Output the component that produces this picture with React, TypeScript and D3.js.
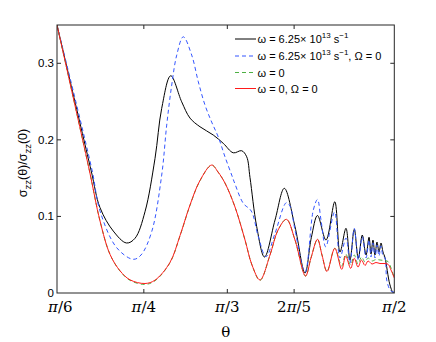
import React from 'react';
import * as d3 from 'd3';

type Pt = [number, number];

// theta in degrees, value = sigma_zz(theta) / sigma_zz(0)
const omegaFull: Pt[] = [
  [29.40, 0.350], [35.51, 0.1606], [37.13, 0.1114], [39.51, 0.0809], [41.89, 0.0653],
  [43.41, 0.0714], [45.21, 0.1061], [47.01, 0.1758], [48.21, 0.2411], [49.83, 0.2837],
  [51.80, 0.2497], [53.30, 0.2284], [55.09, 0.2171], [57.48, 0.2063], [59.28, 0.1954],
  [61.07, 0.1831], [62.58, 0.1858], [63.48, 0.1779], [64.07, 0.151], [65.28, 0.0866],
  [66.68, 0.0470], [68.57, 0.0953], [70.24, 0.1367], [72.16, 0.0866], [73.96, 0.0261],
  [75.09, 0.0722], [76.20, 0.1012], [77.73, 0.0692], [79.31, 0.1192], [80.24, 0.0535],
  [81.32, 0.0845], [82.04, 0.0431], [82.81, 0.0832], [83.53, 0.0453], [84.25, 0.0757],
  [84.92, 0.0496], [85.46, 0.0728], [85.81, 0.0509], [86.17, 0.0692], [86.53, 0.0496],
  [86.89, 0.0666], [87.25, 0.0535], [87.61, 0.0653], [87.97, 0.0535], [88.33, 0.0461],
  [89.18, 0.0117], [89.77, 0.0004], [90.00, 0.0],
];

const omegaNoBigOmega: Pt[] = [
  [29.40, 0.350], [35.69, 0.1606], [37.13, 0.1070], [40.13, 0.0591], [43.11, 0.0440],
  [44.49, 0.0496], [46.41, 0.0800], [48.21, 0.1540], [49.11, 0.2193], [50.01, 0.2715],
  [50.91, 0.3107], [52.09, 0.3346], [53.60, 0.3107], [54.79, 0.2758], [55.99, 0.2454],
  [57.19, 0.2232], [58.38, 0.2037], [59.58, 0.1779], [60.79, 0.1540], [61.38, 0.1423],
  [62.87, 0.1171], [64.31, 0.1070], [65.57, 0.0735], [66.95, 0.0474], [68.57, 0.0779],
  [70.60, 0.1179], [71.26, 0.1136], [72.16, 0.0822], [73.96, 0.0274], [75.45, 0.1084],
  [76.20, 0.1221], [76.83, 0.0953], [77.68, 0.0604], [79.27, 0.1057], [80.24, 0.0457],
  [81.32, 0.0718], [82.04, 0.0388], [82.81, 0.0845], [83.53, 0.0431], [84.25, 0.0735],
  [84.92, 0.0457], [85.46, 0.0692], [85.81, 0.0470], [86.17, 0.0653], [86.53, 0.0457],
  [86.89, 0.0627], [87.25, 0.0483], [87.61, 0.0614], [87.97, 0.0483], [88.33, 0.0457],
  [88.64, 0.0170], [89.14, 0.0052], [89.54, 0.0017], [90.00, 0.0013],
];

const staticFull: Pt[] = [
  [29.40, 0.350], [35.20, 0.1606], [37.13, 0.0940], [38.92, 0.0505], [40.72, 0.0287],
  [42.52, 0.0165], [45.21, 0.0112], [47.01, 0.0160], [49.70, 0.0395], [51.50, 0.0745],
  [53.30, 0.1145], [55.09, 0.1465], [57.19, 0.1671], [58.33, 0.1580], [59.58, 0.1436],
  [61.38, 0.1123], [63.18, 0.0692], [64.43, 0.0366], [65.87, 0.0165], [67.67, 0.0496],
  [69.11, 0.0822], [70.63, 0.0962], [72.16, 0.0692], [74.05, 0.0222], [75.03, 0.0457],
  [76.20, 0.0701], [77.01, 0.0496], [77.91, 0.0281], [79.31, 0.0584], [80.55, 0.0352],
  [81.27, 0.0509], [82.16, 0.0366], [82.81, 0.0496], [83.48, 0.0379], [84.11, 0.0470],
  [84.74, 0.0405], [85.28, 0.0457], [85.99, 0.0418], [86.71, 0.0437], [87.43, 0.0431],
  [88.15, 0.0424], [88.87, 0.0411], [89.41, 0.0326], [90.00, 0.0196],
];

const staticNoBigOmega: Pt[] = [
  [29.40, 0.350], [35.20, 0.1606], [37.13, 0.0940], [38.92, 0.0505], [40.72, 0.0290],
  [42.52, 0.0172], [45.21, 0.0124], [47.01, 0.0168], [49.70, 0.0400], [51.50, 0.0750],
  [53.30, 0.1150], [55.09, 0.1470], [57.19, 0.1671], [58.33, 0.1580], [59.58, 0.1436],
  [61.38, 0.1123], [63.18, 0.0692], [64.43, 0.0366], [65.87, 0.0170], [67.67, 0.0496],
  [69.11, 0.0822], [70.63, 0.0962], [72.16, 0.0692], [74.05, 0.0222], [75.03, 0.0457],
  [76.20, 0.0701], [77.01, 0.0496], [77.91, 0.0281], [79.31, 0.0584], [80.55, 0.0309],
  [81.27, 0.0483], [82.16, 0.0322], [82.81, 0.0453], [83.48, 0.0339], [84.11, 0.0431],
  [84.74, 0.0359], [85.28, 0.0418], [85.99, 0.0379], [86.71, 0.0398], [87.43, 0.0385],
  [88.15, 0.0385], [88.87, 0.0375], [89.41, 0.0300], [90.00, 0.0196],
];

const seriesLabels = [
  'ω = 6.25× 10^{13} s^{−1}',
  'ω = 6.25× 10^{13} s^{−1}, Ω = 0',
  'ω = 0',
  'ω = 0, Ω = 0',
];

const xTickValues = [30, 45, 60, 72, 90];
const xTickLabels = ['π/6', 'π/4', 'π/3', '2π/5', 'π/2'];
const yTickValues = [0, 0.1, 0.2, 0.3];
const yTickLabels = ['0', '0.1', '0.2', '0.3'];

const W = 436;
const H = 342;
const left = 57, right = 394.3, top = 25, bottom = 293;
const sans = 'Liberation Sans, Arial, sans-serif';
const serif = 'DejaVu Serif, serif';

// split "a^{b}c_{d}" into normal / sup / sub pieces
const pieces = (s: string) => {
  const out: { t: string; k: string }[] = [];
  const re = /([\^_])\{([^}]*)\}/g;
  let last = 0;
  let m;
  while ((m = re.exec(s)) !== null) {
    if (m.index > last) out.push({ t: s.slice(last, m.index), k: 'n' });
    out.push({ t: m[2], k: m[1] === '^' ? 'sup' : 'sub' });
    last = re.lastIndex;
  }
  if (last < s.length) out.push({ t: s.slice(last), k: 'n' });
  return out;
};

const RichText = ({ text, size, small }: { text: string; size: number; small: number }) => {
  let shift = 0;
  return (
    <>
      {pieces(text).map((p, i) => {
        const target = p.k === 'sup' ? -size * 0.42 : p.k === 'sub' ? size * 0.3 : 0;
        const dy = target - shift;
        shift = target;
        return (
          <tspan key={i} dy={dy} fontSize={p.k === 'n' ? size : small}>
            {p.t}
          </tspan>
        );
      })}
    </>
  );
};

const App = () => {
  const x = d3.scaleLinear().domain([29.4, 90]).range([left, right]);
  const y = d3.scaleLinear().domain([0, 0.35]).range([bottom, top]);

  const line = d3
    .line<Pt>()
    .x((d) => x(d[0]))
    .y((d) => y(d[1]))
    .curve(d3.curveCatmullRom.alpha(0.5));

  const series = [
    { data: omegaFull, color: '#000000', dash: null },
    { data: omegaNoBigOmega, color: '#3355ff', dash: '4,3' },
    { data: staticFull, color: '#4db043', dash: '4,3' },
    { data: staticNoBigOmega, color: '#ff1a1a', dash: null },
  ];

  const legendY = [39, 56, 72.5, 88.5];
  const tickLen = 4;

  return (
    <svg
      width={W}
      height={H}
      style={{ position: 'absolute', left: 0, top: 0, background: '#fff' }}
    >
      <defs>
        <clipPath id="plot">
          <rect x={left} y={top} width={right - left} height={bottom - top} />
        </clipPath>
      </defs>

      <g clipPath="url(#plot)">
        {series.map((s, i) => (
          <path
            key={i}
            d={line(s.data) || ''}
            fill="none"
            stroke={s.color}
            strokeWidth={1}
            strokeDasharray={s.dash || undefined}
          />
        ))}
      </g>

      {/* box */}
      <rect x={left} y={top} width={right - left} height={bottom - top} fill="none" stroke="#262626" strokeWidth={1} />

      {/* x ticks, inward on bottom and top */}
      {xTickValues.map((v, i) => {
        const px = x(v);
        const edge = px - left < 5 || right - px < 2;
        return (
          <g key={'x' + i}>
            {!edge && (
              <>
                <line x1={px} x2={px} y1={bottom} y2={bottom - tickLen} stroke="#262626" />
                <line x1={px} x2={px} y1={top} y2={top + tickLen} stroke="#262626" />
              </>
            )}
            <text
              x={px}
              y={312}
              textAnchor="middle"
              fontFamily={serif}
              fontSize={15}
              fill="#000"
            >
              {xTickLabels[i].split(/(π)/).filter((t) => t).map((t, j) => (
                <tspan key={j} fontStyle={t === 'π' ? 'italic' : 'normal'}>{t}</tspan>
              ))}
            </text>
          </g>
        );
      })}

      {/* y ticks, inward on left and right */}
      {yTickValues.map((v, i) => {
        const py = y(v);
        return (
          <g key={'y' + i}>
            {v !== 0 && (
              <>
                <line x1={left} x2={left + tickLen} y1={py} y2={py} stroke="#262626" />
                <line x1={right} x2={right - tickLen} y1={py} y2={py} stroke="#262626" />
              </>
            )}
            <text x={54} y={py + 4} textAnchor="end" fontFamily={sans} fontSize={11.5} fill="#000">
              {yTickLabels[i]}
            </text>
          </g>
        );
      })}

      {/* axis labels */}
      <text x={(left + right) / 2} y={337} textAnchor="middle" fontFamily={serif} fontSize={15} fill="#000">
        θ
      </text>
      <text
        transform={`translate(27, ${(top + bottom) / 2 + 4}) rotate(-90)`}
        textAnchor="middle"
        fontFamily={sans}
        fontSize={12.5}
        fill="#000"
      >
        <RichText text={'σ_{zz}(θ)/σ_{zz}(0)'} size={12.5} small={9.5} />
      </text>

      {/* legend */}
      {series.map((s, i) => (
        <g key={'l' + i}>
          <line
            x1={235}
            x2={256}
            y1={legendY[i]}
            y2={legendY[i]}
            stroke={s.color}
            strokeWidth={1}
            strokeDasharray={s.dash || undefined}
          />
          <text x={257.5} y={legendY[i] + 4} fontFamily={sans} fontSize={11} fill="#000">
            <RichText text={seriesLabels[i]} size={11} small={8} />
          </text>
        </g>
      ))}
    </svg>
  );
};

export default App;
